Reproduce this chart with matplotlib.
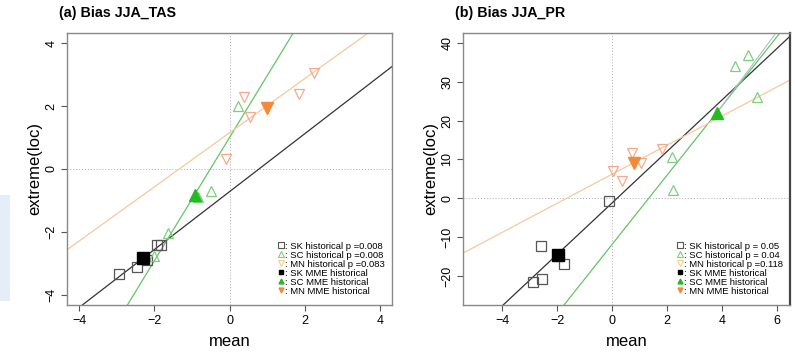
import matplotlib
matplotlib.use("Agg")
import matplotlib.pyplot as plt
import numpy as np
from matplotlib.lines import Line2D
from matplotlib.patches import Rectangle

plt.rcParams["font.family"] = ["Liberation Sans", "DejaVu Sans"]

# ── data: panel (a) Bias JJA_TAS ─────────────────────────────────────────────
sk_a_x = [-1.94, -1.83, -2.20, -2.47, -2.94]
sk_a_y = [-2.41, -2.42, -2.90, -3.10, -3.33]
sc_a_x = [0.23, -0.84, -0.50, -1.63, -2.00]
sc_a_y = [2.00, -0.89, -0.70, -2.03, -2.76]
mn_a_x = [0.39, 0.55, 1.85, 2.25, -0.10]
mn_a_y = [2.29, 1.65, 2.38, 3.05, 0.32]
mme_a_x = [-2.29, -0.92, 1.00]          # SK, SC, MN
mme_a_y = [-2.83, -0.83, 1.93]
fit_a = [(-0.72, 0.92), (1.00, 1.96), (1.15, 0.86)]   # (intercept, slope) SK, SC, MN
pval_a = ["p =0.008", "p =0.008", "p =0.083"]

# ── data: panel (b) Bias JJA_PR ──────────────────────────────────────────────
sk_b_x = [-0.10, -2.60, -1.75, -2.55, -2.87]
sk_b_y = [-0.7, -12.3, -16.9, -20.8, -21.6]
sc_b_x = [4.47, 4.95, 5.27, 2.18, 2.20]
sc_b_y = [34.1, 36.9, 26.2, 10.7, 2.1]
mn_b_x = [0.73, 1.05, 1.80, 0.05, 0.37]
mn_b_y = [11.6, 9.2, 12.7, 7.1, 4.5]
mme_b_x = [-1.96, 3.80, 0.80]
mme_b_y = [-14.6, 21.9, 9.0]
fit_b = [(-1.2, 6.64), (-11.9, 8.93), (6.2, 3.75)]
extra_slope_b = 9.6   # faint second line rising from the SC MME point
pval_b = ["p = 0.05", "p = 0.04", "p =0.118"]

groups = ["SK", "SC", "MN"]

# ── styles ───────────────────────────────────────────────────────────────────
open_mk = ["s", "^", "v"]
open_col = ["#555555", "#7ccf7c", "#f4a88c"]
fill_col = ["#000000", "#22bb22", "#f28a3a"]
line_col = ["#333333", "#66c466", "#f5c99c"]
leg_open_col = ["#555555", "#7ccf7c", "#f5d08a"]

fig = plt.figure(figsize=(7.95, 3.54), dpi=100)
fig.patch.set_facecolor("white")
fig.add_artist(Rectangle((0, 0.15), 0.012, 0.30, transform=fig.transFigure,
                         facecolor="#e4edf8", edgecolor="none"))

ax1 = fig.add_axes([0.0843, 0.1384, 0.4088, 0.7684])
ax2 = fig.add_axes([0.5824, 0.1384, 0.4113, 0.7684])


def panel(ax, pts, mme_x, mme_y, fits, pvals, xlim, ylim, xt, yt, title,
          extra_slope=None):
    ax.set_xlim(*xlim)
    ax.set_ylim(*ylim)
    ax.axvline(0, color="#aaaaaa", lw=0.7, ls=(0, (1, 2)), zorder=1)
    ax.axhline(0, color="#aaaaaa", lw=0.7, ls=(0, (1, 2)), zorder=1)
    for i, (b, m) in enumerate(fits):
        ax.axline((0, b), slope=m, color=line_col[i], lw=0.9, zorder=2)
    if extra_slope is not None:
        xs = np.array([mme_x[1], xlim[1]])
        ax.plot(xs, mme_y[1] + extra_slope * (xs - mme_x[1]),
                color="#a9c3c9", lw=0.8, zorder=2)
    for i, (xs, ys) in enumerate(pts):
        ax.plot(xs, ys, ls="none", marker=open_mk[i], ms=6.5, mfc="none",
                mec=open_col[i], mew=0.9, zorder=3)
    for i in range(3):
        ax.plot(mme_x[i], mme_y[i], ls="none", marker=open_mk[i], ms=9,
                color=fill_col[i], zorder=4)
    ax.set_xticks(xt)
    ax.set_yticks(yt)
    ax.set_xticklabels([f"{v:g}".replace("-", "\u2212") for v in xt])
    ax.set_yticklabels([f"{v:g}".replace("-", "\u2212") for v in yt],
                       rotation=90, va="center")
    ax.tick_params(direction="out", length=4, width=0.8, color="#555555",
                   labelsize=9, pad=3)
    for s in ax.spines.values():
        s.set_color("#888888")
        s.set_linewidth(1.0)
    ax.set_xlabel("mean", fontsize=12, labelpad=5)
    ax.set_ylabel("extreme(loc)", fontsize=12, labelpad=2)
    ax.text(-0.025, 1.074, title, transform=ax.transAxes, fontsize=10.3,
            fontweight="bold", ha="left", va="center")

    handles, labels = [], []
    for i, g in enumerate(groups):
        handles.append(Line2D([], [], ls="none", marker=open_mk[i], ms=4,
                              mfc="none", mec=leg_open_col[i], mew=0.8))
        labels.append(f": {g} historical {pvals[i]}")
    for i, g in enumerate(groups):
        handles.append(Line2D([], [], ls="none", marker=open_mk[i], ms=3.5,
                              color=fill_col[i]))
        labels.append(f": {g} MME historical")
    ax.legend(handles, labels, loc="lower right", bbox_to_anchor=(0.99, 0.02),
              frameon=False, fontsize=6.8, handlelength=0.6, handletextpad=0.15,
              labelspacing=0.0, borderaxespad=0.2, borderpad=0.2)


panel(ax1, [(sk_a_x, sk_a_y), (sc_a_x, sc_a_y), (mn_a_x, mn_a_y)],
      mme_a_x, mme_a_y, fit_a, pval_a, (-4.32, 4.32), (-4.32, 4.32),
      [-4, -2, 0, 2, 4], [-4, -2, 0, 2, 4], "(a) Bias JJA_TAS")
panel(ax2, [(sk_b_x, sk_b_y), (sc_b_x, sc_b_y), (mn_b_x, mn_b_y)],
      mme_b_x, mme_b_y, fit_b, pval_b, (-5.42, 6.47), (-27.5, 42.6),
      [-4, -2, 0, 2, 4, 6], [-20, -10, 0, 10, 20, 30, 40], "(b) Bias JJA_PR",
      extra_slope=extra_slope_b)
ax2.spines["right"].set_color("#444444")
ax2.spines["right"].set_linewidth(1.6)

fig.savefig("out.png", dpi=100, facecolor=fig.get_facecolor())
